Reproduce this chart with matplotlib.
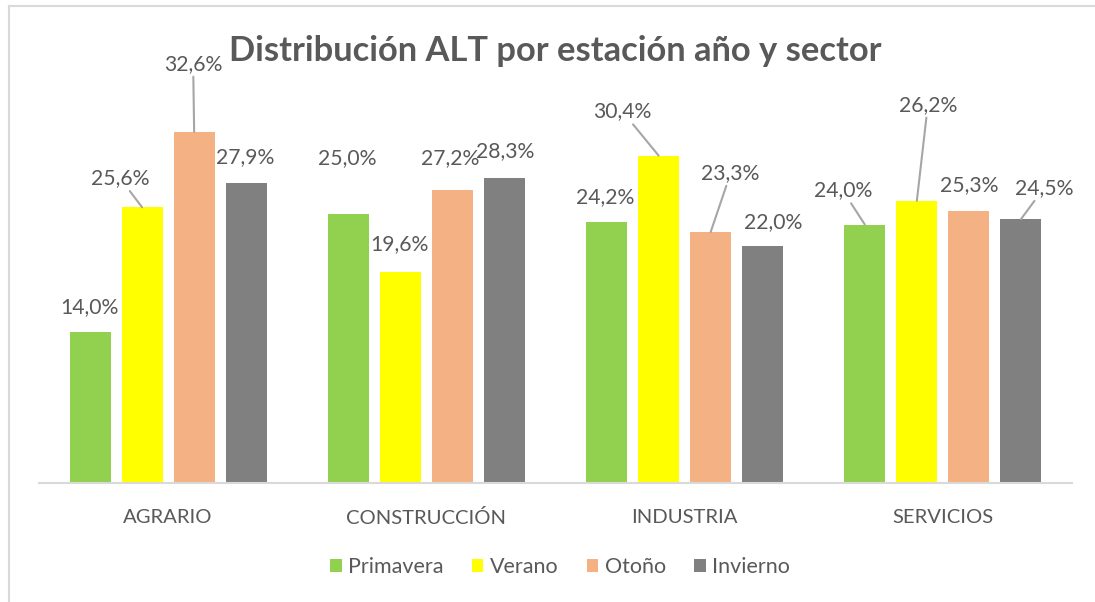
import matplotlib
matplotlib.use("Agg")
import matplotlib.pyplot as plt
from matplotlib.patches import Patch
from matplotlib.lines import Line2D
import numpy as np

# --- DATA ---
sectores = ["AGRARIO", "CONSTRUCCIÓN", "INDUSTRIA", "SERVICIOS"]
estaciones = ["Primavera", "Verano", "Otoño", "Invierno"]
primavera = [14.0, 25.0, 24.2, 24.0]
verano = [25.6, 19.6, 30.4, 26.2]
otono = [32.6, 27.2, 23.3, 25.3]
invierno = [27.9, 28.3, 22.0, 24.5]
colores = ["#92D050", "#FFFF00", "#F4B183", "#808080"]

# label offsets in pixels (dx, dy) from bar top, and whether a leader line is drawn
offsets = [
    [(-1, 25), (-22, 29), (-1, 68), (-1, 25)],
    [(-1, 56), (-1, 28), (-2, 32), (1, 27)],
    [(-1, 25), (-36, 44), (20, 59), (10, 24)],
    [(-22, 34), (11, 96), (0, 25), (23, 31)],
]
leaders = [
    [False, True, True, False],
    [False, False, False, False],
    [False, True, True, False],
    [True, True, False, True],
]

TXT = "#595959"
FONT = ["Lato", "DejaVu Sans"]
plt.rcParams["font.family"] = FONT

W, H = 1095, 602
fig = plt.figure(figsize=(W / 100, H / 100), dpi=100)

# outer chart frame (only top and left edges visible)
fig.add_artist(Line2D([9 / W, 9 / W], [0, 1 - 6 / H], transform=fig.transFigure,
                      color="#d9d9d9", lw=1.5))
fig.add_artist(Line2D([9 / W, 1], [1 - 6 / H, 1 - 6 / H], transform=fig.transFigure,
                      color="#d9d9d9", lw=1.5))

ymax = 35
ax = fig.add_axes([39 / W, (H - 483) / H, (1072 - 39) / W, 35 * 10.77 / H])
ax.set_xlim(-0.5, 3.5)
ax.set_ylim(0, ymax)

series = [primavera, verano, otono, invierno]
x = np.arange(len(sectores))
slot = 52 / 258
width = 41 / 258
for i, vals in enumerate(series):
    pos = x + (i - 1.5) * slot
    ax.bar(pos, vals, width, color=colores[i], label=estaciones[i], zorder=2)
    for j, v in enumerate(vals):
        dx, dy = offsets[j][i]
        props = None
        if leaders[j][i]:
            props = dict(arrowstyle="-", color="#a6a6a6", lw=1.5, shrinkA=0, shrinkB=0)
        ax.annotate(f"{v:.1f}%".replace(".", ","), xy=(pos[j], v), xytext=(dx, dy),
                    textcoords="offset pixels", ha="center", va="center",
                    fontsize=15.2, color=TXT, arrowprops=props, annotation_clip=False)

for s in ["top", "right", "left"]:
    ax.spines[s].set_visible(False)
ax.spines["bottom"].set_color("#d9d9d9")
ax.spines["bottom"].set_linewidth(1.5)
ax.set_yticks([])
ax.set_xticks(x)
ax.set_xticklabels(sectores, fontsize=14.6, color=TXT)
ax.tick_params(axis="x", length=0, pad=19)

fig.text(555 / W, 1 - 51 / H, "Distribución ALT por estación año y sector",
         ha="center", va="center", fontsize=24.8, fontweight="bold", color=TXT)

handles = [Patch(facecolor=c, label=l) for c, l in zip(colores, estaciones)]
fig.legend(handles=handles, loc="center", bbox_to_anchor=(560 / W, 1 - 567 / H),
           ncol=4, frameon=False, fontsize=15.5, labelcolor=TXT,
           handlelength=0.55, handleheight=0.55, handletextpad=0.3, columnspacing=1.3)

fig.savefig("out.png", dpi=100)
